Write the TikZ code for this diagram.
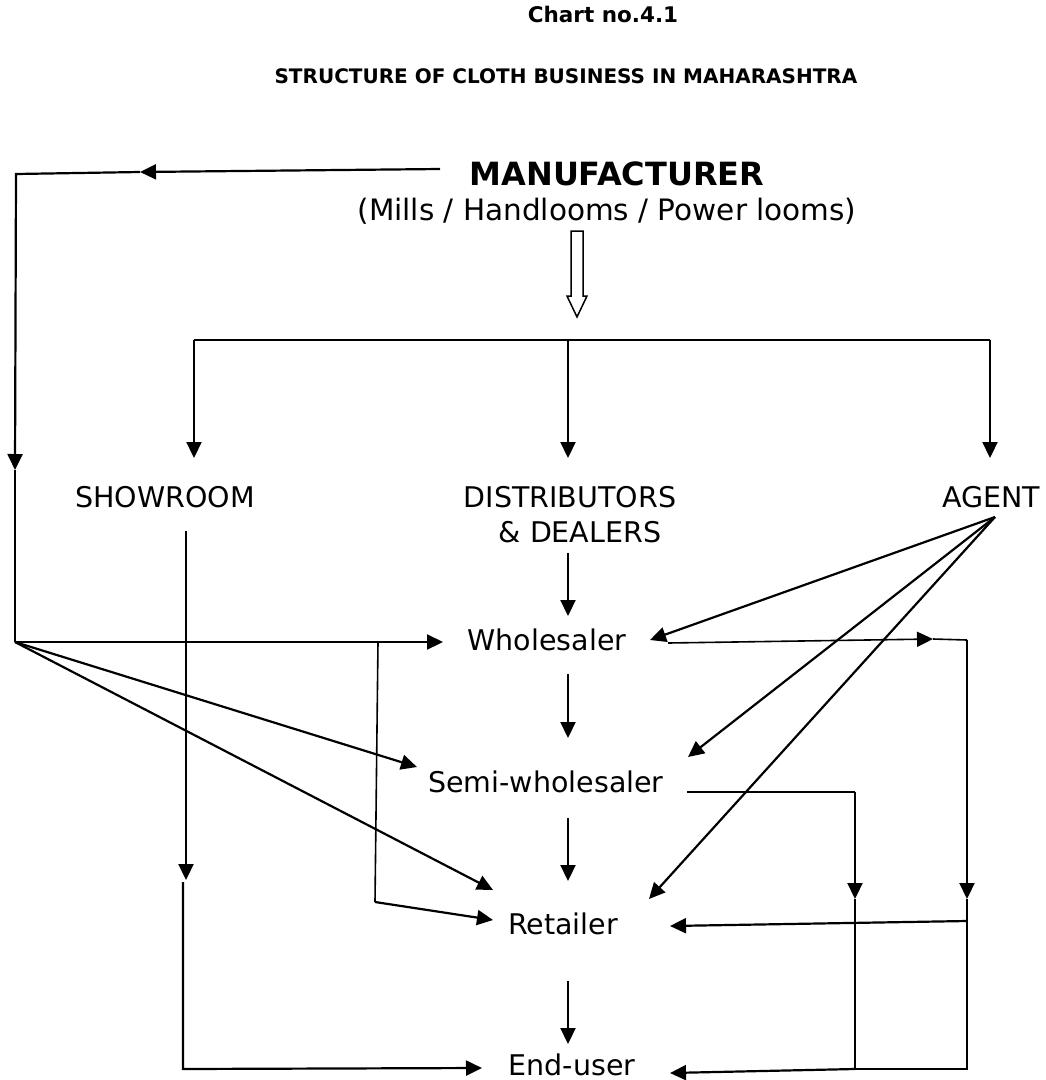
\documentclass[tikz,border=0pt]{standalone}
\usepackage{fontspec}
\setmainfont{DejaVu Sans}
\usetikzlibrary{arrows.meta}
\begin{document}
\begin{tikzpicture}[x=1pt,y=-1pt,
  lbl/.style={inner sep=0pt, anchor=base, font=\fontsize{28.5}{34}\selectfont},
  hd/.style={inner sep=0pt, anchor=base, font=\bfseries\fontsize{20}{24}\selectfont},
  arr/.style={line width=2.2pt, -{Triangle[length=16pt,width=15pt]}},
  ln/.style={line width=2.2pt},
  thinln/.style={line width=1.6pt},
  thinarr/.style={line width=1.6pt, -{Triangle[length=16pt,width=15pt]}}]
\useasboundingbox[fill=white] (0,0) rectangle (1046,1080);

% texts
\node[hd,font=\bfseries\fontsize{21.5}{24}\selectfont] (chart) at (603,22) {Chart no.4.1};
\node[hd] (title) at (566,83) {STRUCTURE OF CLOTH BUSINESS IN MAHARASHTRA};
\node[lbl,font=\bfseries\fontsize{32}{36}\selectfont] (manu) at (617,185) {MANUFACTURER};
\node[lbl,font=\fontsize{29.5}{34}\selectfont] (mills) at (607,220) {(Mills / Handlooms / Power looms)};
\node[lbl] (show) at (165,507) {SHOWROOM};
\node[lbl] (dist) at (570,507) {DISTRIBUTORS};
\node[lbl] (deal) at (580,542) {\& DEALERS};
\node[lbl] (agent) at (991,507) {AGENT};
\node[lbl] (whole) at (547,650) {Wholesaler};
\node[lbl] (semi) at (546,792) {Semi-wholesaler};
\node[lbl] (ret) at (563,934) {Retailer};
\node[lbl] (endu) at (572,1075) {End-user};

% coordinates
\coordinate (mL) at (440,169);
\coordinate (mA) at (140,172);
\coordinate (lTop) at (16,174);
\coordinate (lArr) at (15,470);
\coordinate (hub) at (15,642);
\coordinate (barL) at (194,340);
\coordinate (barM) at (568,340);
\coordinate (barR) at (990,340);
\coordinate (shTop) at (186,531);
\coordinate (shArr) at (186,880);
\coordinate (shB1) at (183,882);
\coordinate (shB2) at (183,1069);
\coordinate (endL) at (482,1068);
\coordinate (whL) at (443,642);
\coordinate (seL) at (417,767);
\coordinate (reL1) at (493,890);
\coordinate (reL2) at (493,920);
\coordinate (vTop) at (378,642);
\coordinate (vBot) at (375,902);
\coordinate (agP) at (995,517);
\coordinate (whR) at (650,640);
\coordinate (seR) at (688,757);
\coordinate (reR) at (649,899);
\coordinate (whO) at (668,643);
\coordinate (whOa) at (933,639);
\coordinate (r1) at (967,640);
\coordinate (r2) at (967,899);
\coordinate (r3) at (967,921);
\coordinate (r4) at (967,1069);
\coordinate (reRa) at (670,926);
\coordinate (seO) at (687,792);
\coordinate (s1) at (855,792);
\coordinate (s2) at (855,899);
\coordinate (s3) at (855,1069);
\coordinate (endR) at (670,1073);

% manufacturer to the left
\draw[arr] (mL) -- (mA);
\draw[arr] (mA) -- (lTop) -- (lArr);
\draw[ln] (lArr) -- (hub);

% open arrow
\draw[line width=1.5pt, line join=miter] (571,231) -- (583,231) -- (583,296) -- (587,296) -- (577,317) -- (567,296) -- (571,296) -- cycle;

% bar and branches
\draw[ln] (barL) -- (barR);
\draw[arr] (barL) -- (194,458);
\draw[arr] (barM) -- (568,458);
\draw[arr] (barR) -- (990,458);

% showroom
\draw[arr] (shTop) -- (shArr);
\draw[arr] (shB1) -- (shB2) -- (endL);

% central column
\draw[arr] (568,553) -- (568,616);
\draw[arr] (568,674) -- (568,738);
\draw[arr] (568,818) -- (568,881);
\draw[arr] (568,981) -- (568,1044);

% from left hub
\draw[arr] (hub) -- (whL);
\draw[arr] (hub) -- (seL);
\draw[arr] (hub) -- (reL1);
\draw[thinln] (vTop) -- (vBot);
\draw[arr] (vBot) -- (reL2);

% from agent
\draw[arr] (agP) -- (whR);
\draw[arr] (agP) -- (seR);
\draw[arr] (agP) -- (reR);

% right side
\draw[thinarr] (whO) -- (whOa);
\draw[thinln] (whOa) -- (r1);
\draw[arr] (r1) -- (r2);
\draw[thinln] (r2) -- (r4) -- (s3);
\draw[arr] (r3) -- (reRa);
\draw[thinln] (seO) -- (s1);
\draw[arr] (s1) -- (s2);
\draw[thinln] (s2) -- (s3);
\draw[arr] (s3) -- (endR);
\end{tikzpicture}
\end{document}
